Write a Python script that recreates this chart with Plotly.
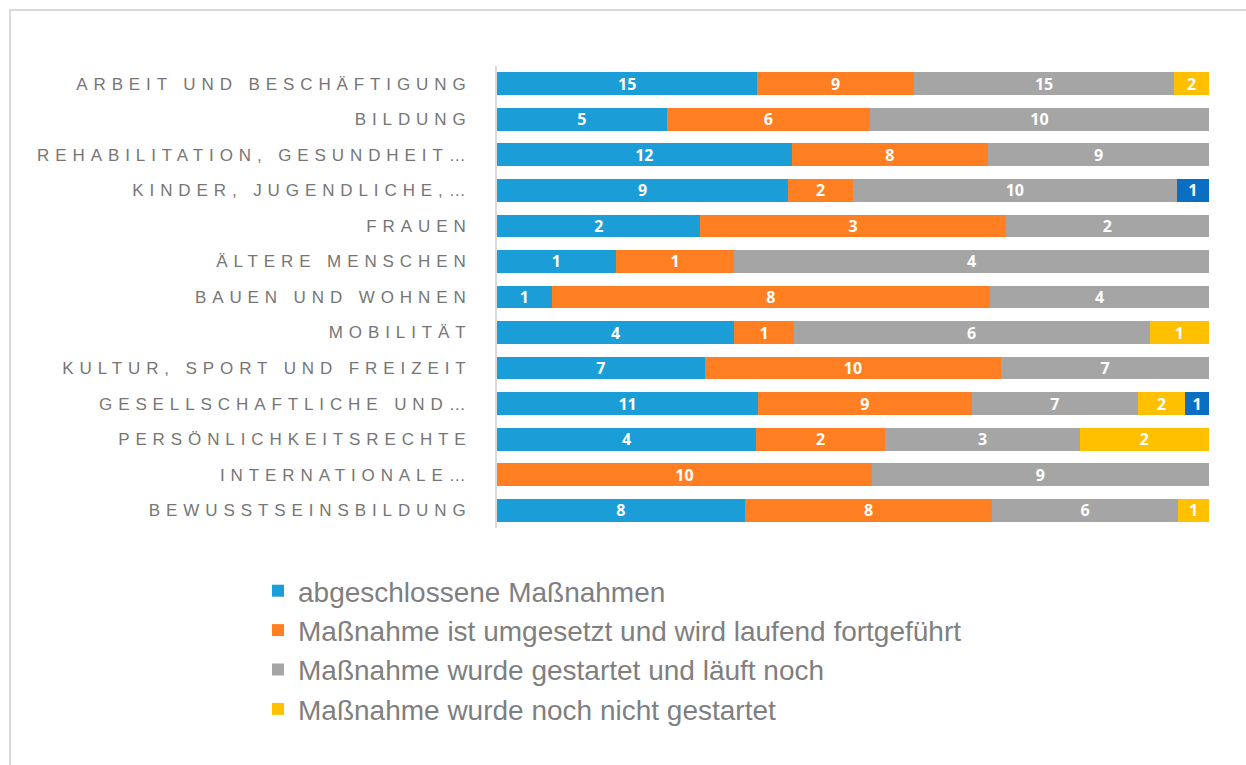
import plotly.graph_objects as go

categories = [
    "ARBEIT UND BESCHÄFTIGUNG",
    "BILDUNG",
    "REHABILITATION, GESUNDHEIT…",
    "KINDER, JUGENDLICHE,…",
    "FRAUEN",
    "ÄLTERE MENSCHEN",
    "BAUEN UND WOHNEN",
    "MOBILITÄT",
    "KULTUR, SPORT UND FREIZEIT",
    "GESELLSCHAFTLICHE UND…",
    "PERSÖNLICHKEITSRECHTE",
    "INTERNATIONALE…",
    "BEWUSSTSEINSBILDUNG",
]

abgeschlossen = [15, 5, 12, 9, 2, 1, 1, 4, 7, 11, 4, 0, 8]
laufend = [9, 6, 8, 2, 3, 1, 8, 1, 10, 9, 2, 10, 8]
gestartet = [15, 10, 9, 10, 2, 4, 4, 6, 7, 7, 3, 9, 6]
nicht_gestartet = [2, 0, 0, 0, 0, 0, 0, 1, 0, 2, 2, 0, 1]
sonstige = [0, 0, 0, 1, 0, 0, 0, 0, 0, 1, 0, 0, 0]

series = [
    ("abgeschlossene Maßnahmen", abgeschlossen, "#1B9DD8", True),
    ("Maßnahme ist umgesetzt und wird laufend fortgeführt", laufend, "#FF7F22", True),
    ("Maßnahme wurde gestartet und läuft noch", gestartet, "#A5A5A5", True),
    ("Maßnahme wurde noch nicht gestartet", nicht_gestartet, "#FFC000", True),
    ("sonstige", sonstige, "#0A6FC2", False),
]

W, H = 1246, 765
L, R, T, B = 497, 37, 66, 237

fig = go.Figure()
for name, vals, color, show in series:
    fig.add_trace(go.Bar(
        y=categories,
        x=[v if v else None for v in vals],
        orientation="h",
        name=name,
        marker=dict(color=color, line=dict(width=0)),
        text=[str(v) if v else "" for v in vals],
        textposition="inside",
        insidetextanchor="middle",
        textangle=0,
        constraintext="none",
        textfont=dict(family="Open Sans", size=16, color="white", weight="bold"),
        showlegend=show,
        hoverinfo="x+y+name",
    ))

pw = W - L - R
ph = H - T - B

def px_x(p):
    return (p - L) / pw

def px_y(p):
    return (H - B - p) / ph

fig.update_layout(
    width=W, height=H,
    barmode="stack",
    barnorm="percent",
    bargap=0.36,
    plot_bgcolor="white",
    paper_bgcolor="white",
    margin=dict(l=L, r=R, t=T, b=B),
    font=dict(family="Liberation Sans, Arial", color="#7F7F7F"),
    xaxis=dict(range=[0, 100], showticklabels=False, showgrid=False,
               zeroline=False, showline=False, fixedrange=True),
    yaxis=dict(autorange="reversed", showgrid=False, zeroline=False,
               showline=True, linecolor="#DADADA", linewidth=2,
               tickfont=dict(family="Liberation Sans, Arial", size=17, color="#767676"),
               ticklabelstandoff=20, ticks=""),
    legend=dict(
        x=px_x(258), xanchor="left",
        y=px_y(566), yanchor="top",
        traceorder="normal",
        font=dict(family="Liberation Sans, Arial", size=28, color="#7F7F7F"),
        tracegroupgap=0, itemwidth=30,
        bgcolor="rgba(0,0,0,0)",
    ),
    shapes=[dict(
        type="rect", xref="paper", yref="paper",
        x0=px_x(10), x1=px_x(1260), y0=px_y(780), y1=px_y(10),
        line=dict(color="#D9D9D9", width=2), fillcolor="rgba(0,0,0,0)",
        layer="below",
    )],
)

post = """
var s = document.createElement('style');
s.textContent = 'html, body { margin: 0; padding: 0; } .ytick text { letter-spacing: 5.9px; }';
document.head.appendChild(s);
"""
fig.write_html("out.html", post_script=post, config={"displayModeBar": False})
